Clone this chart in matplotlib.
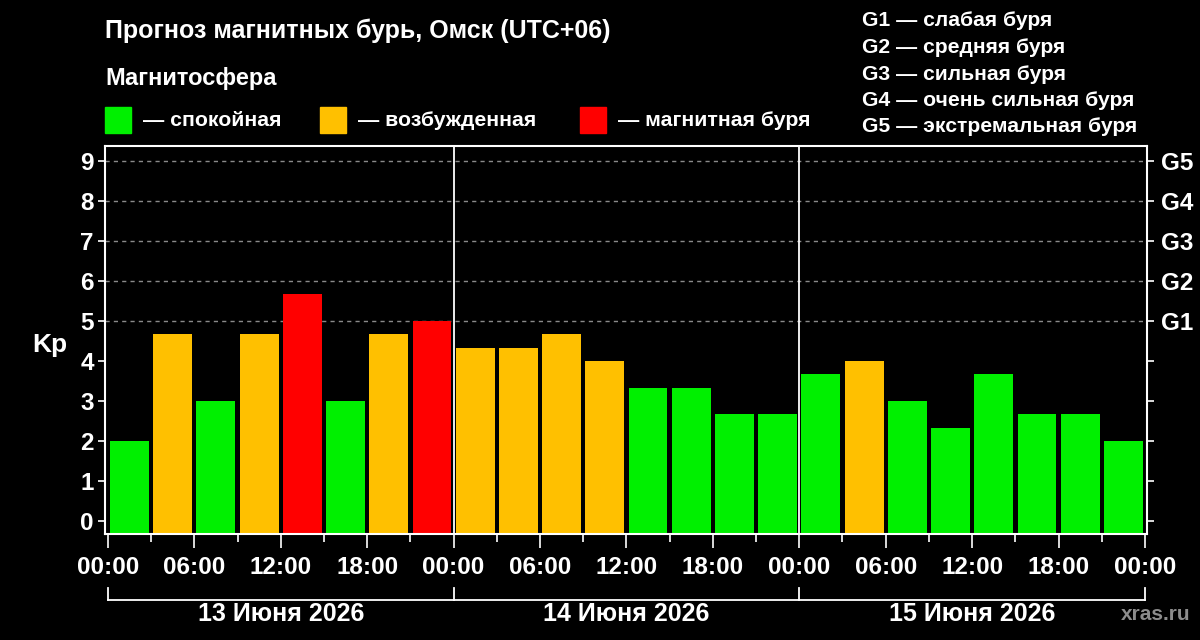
import matplotlib
matplotlib.use("Agg")
import matplotlib.pyplot as plt
from matplotlib.patches import Rectangle
import matplotlib.transforms as mtransforms
import numpy as np

plt.rcParams['font.family'] = ['Liberation Sans', 'DejaVu Sans']
plt.rcParams['font.weight'] = 'bold'

# ---- data ----
kp_values = [2.0, 4.67, 3.0, 4.67, 5.67, 3.0, 4.67, 5.0,
             4.33, 4.33, 4.67, 4.0, 3.33, 3.33, 2.67, 2.67,
             3.67, 4.0, 3.0, 2.33, 3.67, 2.67, 2.67, 2.0]
hours_start = list(range(0, 72, 3))
time_labels = ["00:00", "06:00", "12:00", "18:00"] * 3 + ["00:00"]
day_labels = ["13 Июня 2026", "14 Июня 2026", "15 Июня 2026"]
g_labels = ["G1", "G2", "G3", "G4", "G5"]
g_legend = ["G1 — слабая буря", "G2 — средняя буря", "G3 — сильная буря",
            "G4 — очень сильная буря", "G5 — экстремальная буря"]
state_labels = ["— спокойная", "— возбужденная", "— магнитная буря"]

GREEN = "#00f000"
ORANGE = "#ffc000"
RED = "#ff0000"
state_colors = [GREEN, ORANGE, RED]


def color_for(v):
    if v >= 5:
        return RED
    if v >= 4:
        return ORANGE
    return GREEN


W, H = 1200, 640
fig = plt.figure(figsize=(12, 6.4), dpi=100, facecolor="black")
ax = fig.add_axes([105 / W, 1 - 534 / H, 1042 / W, 388 / H])
ax.set_facecolor("black")

ymin, ymax = -0.325, 9.375
ax.set_ylim(ymin, ymax)
ax.set_xlim(-0.2, 72.14)

# grid lines (storm levels)
for y in range(5, 10):
    ax.axhline(y, color="#8a8a8a", lw=1.0, ls=(0, (3, 3)), zorder=1)

centers = [h + 1.5 for h in hours_start]
ax.bar(centers, [v - ymin for v in kp_values], bottom=ymin, width=2.7,
       color=[color_for(v) for v in kp_values], zorder=2, linewidth=0)

# day separators
for d in (24, 48):
    ax.axvline(d, color="white", lw=1.3, zorder=3)

for s in ax.spines.values():
    s.set_color("white")
    s.set_linewidth(1.5)

# y ticks
ax.set_yticks(range(0, 10))
ax.set_yticklabels([str(i) for i in range(10)])
ax.tick_params(axis="y", colors="white", labelsize=17.5, length=5, width=1.2, pad=3)

# right axis
ax2 = ax.twinx()
ax2.set_ylim(ymin, ymax)
ax2.set_yticks(range(0, 10))
ax2.set_yticklabels([""] * 5 + g_labels)
ax2.tick_params(axis="y", colors="white", labelsize=17.5, length=5, width=1.2, pad=5)
for s in ax2.spines.values():
    s.set_visible(False)

# x ticks
ax.set_xticks(range(0, 73, 6))
ax.set_xticklabels(time_labels)
ax.set_xticks(range(3, 72, 6), minor=True)
ax.tick_params(axis="x", which="major", colors="white", labelsize=17.5,
               length=10, width=1.2, pad=6)
ax.tick_params(axis="x", which="minor", colors="white", length=6, width=1.2)

# bracket under axis
trans = mtransforms.blended_transform_factory(ax.transData, ax.transAxes)
yb = (534 - 600) / 388
yt = (534 - 588) / 388
ax.plot([0, 72], [yb, yb], color="white", lw=1.3, transform=trans, clip_on=False)
for d in (0, 24, 48, 72):
    ax.plot([d, d], [yb, yt], color="white", lw=1.3, transform=trans, clip_on=False)
for i, lbl in enumerate(day_labels):
    ax.text(12 + 24 * i, (534 - 614) / 388, lbl, transform=trans, color="white",
            fontsize=18, ha="center", va="center", fontweight="bold")

# Kp label
fig.text(50 / W, 1 - 345 / H, "Kp", color="white", fontsize=19, ha="center",
         va="center", fontweight="bold")

# title and legend
fig.text(105 / W, 1 - 31 / H, "Прогноз магнитных бурь, Омск (UTC+06)", color="white",
         fontsize=18, ha="left", va="center", fontweight="bold")
fig.text(105 / W, 1 - 78 / H, "Магнитосфера", color="white",
         fontsize=17, ha="left", va="center", fontweight="bold")

sq_x = [105, 320, 580]
for x0, c, lbl in zip(sq_x, state_colors, state_labels):
    fig.patches.append(Rectangle((x0 / W, 1 - 133 / H), 26 / W, 26 / H,
                                 transform=fig.transFigure, color=c, figure=fig))
    fig.text((x0 + 38) / W, 1 - 120 / H, lbl, color="white", fontsize=15.3,
             ha="left", va="center", fontweight="bold")

for i, lbl in enumerate(g_legend):
    fig.text(862 / W, 1 - (21 + 26.5 * i) / H, lbl, color="white", fontsize=15.2,
             ha="left", va="center", fontweight="bold")

fig.text(1190 / W, 1 - 614 / H, "xras.ru", color="#8c8c8c", fontsize=15,
         ha="right", va="center", fontweight="bold")

fig.savefig("out.png", dpi=100, facecolor="black")
